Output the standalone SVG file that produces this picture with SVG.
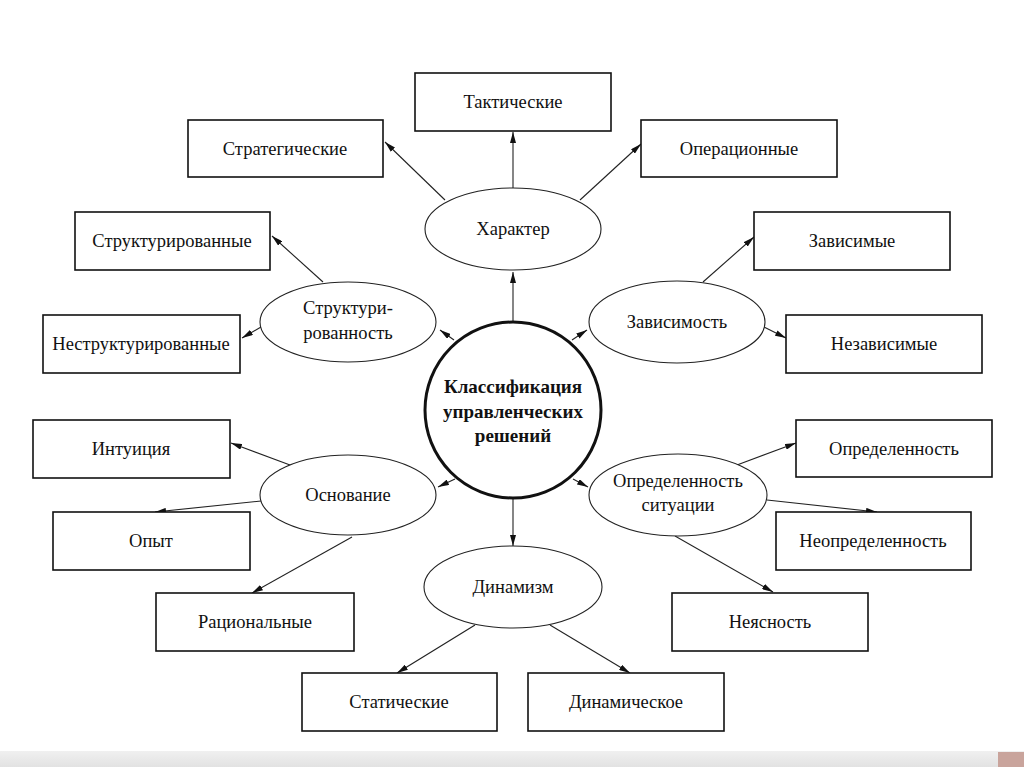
<svg xmlns="http://www.w3.org/2000/svg" width="1024" height="767" viewBox="0 0 1024 767">
<defs>
<marker id="ah" viewBox="0 0 11 6" refX="11" refY="3" markerWidth="11" markerHeight="6" markerUnits="userSpaceOnUse" orient="auto">
<path d="M0,0 L11,3 L0,6 Z" fill="#111"/>
</marker>
<linearGradient id="band" x1="0" y1="0" x2="0" y2="1">
<stop offset="0" stop-color="#f0f0f0"/>
<stop offset="1" stop-color="#e2e2e2"/>
</linearGradient>
</defs>
<style>
.box{fill:#fff;stroke:#111;stroke-width:1.6}
.ell{fill:#fff;stroke:#222;stroke-width:1.1}
.t{font-family:"Liberation Serif","Times New Roman",serif;font-size:18.5px;fill:#111;text-anchor:middle}
.c{font-family:"Liberation Serif","Times New Roman",serif;font-size:19px;font-weight:bold;fill:#111;text-anchor:middle}
.ln{stroke:#222;stroke-width:1.1;fill:none;marker-end:url(#ah)}
</style>
<rect x="0" y="0" width="1024" height="767" fill="#fff"/>
<rect x="0" y="751" width="1024" height="16" fill="url(#band)"/>
<rect x="998" y="752" width="26" height="15" fill="#c9a49c"/>

<g id="connectors">
<line class="ln" x1="513" y1="322" x2="513" y2="272"/>
<line class="ln" x1="454" y1="340" x2="440" y2="330"/>
<line class="ln" x1="572" y1="340" x2="587" y2="330"/>
<line class="ln" x1="455" y1="479" x2="438" y2="487"/>
<line class="ln" x1="573" y1="479" x2="588" y2="487"/>
<line class="ln" x1="513" y1="499" x2="513" y2="546"/>

<line class="ln" x1="513" y1="188" x2="513" y2="132"/>
<line class="ln" x1="445" y1="200" x2="385" y2="142"/>
<line class="ln" x1="580" y1="200" x2="641" y2="144"/>
<line class="ln" x1="323" y1="282" x2="272" y2="236"/>
<line class="ln" x1="261" y1="327" x2="242" y2="338"/>
<line class="ln" x1="703" y1="282" x2="754" y2="237"/>
<line class="ln" x1="764" y1="327" x2="786" y2="338"/>
<line class="ln" x1="290" y1="465" x2="231" y2="443"/>
<line class="ln" x1="261" y1="501" x2="155" y2="512"/>
<line class="ln" x1="352" y1="537" x2="252" y2="593"/>
<line class="ln" x1="737" y1="465" x2="796" y2="443"/>
<line class="ln" x1="767" y1="500" x2="877" y2="512"/>
<line class="ln" x1="675" y1="536" x2="773" y2="592"/>
<line class="ln" x1="475" y1="625" x2="397" y2="673"/>
<line class="ln" x1="550" y1="625" x2="630" y2="673"/>
</g>

<g id="center">
<circle cx="513" cy="410" r="88" fill="#fff" stroke="#111" stroke-width="3"/>
<text class="c" x="513" y="393">Классификация</text>
<text class="c" x="513" y="418">управленческих</text>
<text class="c" x="513" y="442">решений</text>
</g>

<g id="e-harakter"><ellipse class="ell" cx="513" cy="229" rx="88" ry="41"/><text class="t" x="513" y="235">Характер</text></g>
<g id="e-struct"><ellipse class="ell" cx="348" cy="322" rx="88" ry="40"/><text class="t" x="348" y="314">Структури-</text><text class="t" x="348" y="339">рованность</text></g>
<g id="e-zavis"><ellipse class="ell" cx="677" cy="322" rx="88" ry="41"/><text class="t" x="677" y="328">Зависимость</text></g>
<g id="e-osnov"><ellipse class="ell" cx="348" cy="495" rx="88" ry="40"/><text class="t" x="348" y="501">Основание</text></g>
<g id="e-opred"><ellipse class="ell" cx="678" cy="495" rx="89" ry="41"/><text class="t" x="678" y="487">Определенность</text><text class="t" x="678" y="511">ситуации</text></g>
<g id="e-dinam"><ellipse class="ell" cx="513" cy="587" rx="89" ry="41"/><text class="t" x="513" y="593">Динамизм</text></g>

<g id="b-takt"><rect class="box" x="415" y="73" width="196" height="58"/><text class="t" x="513" y="108">Тактические</text></g>
<g id="b-strat"><rect class="box" x="188" y="120" width="195" height="57"/><text class="t" x="285" y="155">Стратегические</text></g>
<g id="b-oper"><rect class="box" x="641" y="120" width="196" height="57"/><text class="t" x="739" y="155">Операционные</text></g>
<g id="b-structd"><rect class="box" x="75" y="212" width="195" height="58"/><text class="t" x="172" y="247">Структурированные</text></g>
<g id="b-nestruct"><rect class="box" x="43" y="315" width="197" height="58"/><text class="t" x="141" y="350">Неструктурированные</text></g>
<g id="b-zavis"><rect class="box" x="754" y="212" width="196" height="58"/><text class="t" x="852" y="247">Зависимые</text></g>
<g id="b-nezavis"><rect class="box" x="786" y="315" width="196" height="58"/><text class="t" x="884" y="350">Независимые</text></g>
<g id="b-intuit"><rect class="box" x="33" y="420" width="197" height="58"/><text class="t" x="131" y="455">Интуиция</text></g>
<g id="b-opyt"><rect class="box" x="53" y="512" width="197" height="58"/><text class="t" x="151" y="547">Опыт</text></g>
<g id="b-rac"><rect class="box" x="156" y="593" width="198" height="58"/><text class="t" x="255" y="628">Рациональные</text></g>
<g id="b-opr"><rect class="box" x="796" y="420" width="196" height="57"/><text class="t" x="894" y="455">Определенность</text></g>
<g id="b-neopr"><rect class="box" x="776" y="512" width="195" height="58"/><text class="t" x="873" y="547">Неопределенность</text></g>
<g id="b-neyas"><rect class="box" x="672" y="593" width="196" height="58"/><text class="t" x="770" y="628">Неясность</text></g>
<g id="b-stat"><rect class="box" x="302" y="673" width="195" height="58"/><text class="t" x="399" y="708">Статические</text></g>
<g id="b-dinam"><rect class="box" x="528" y="673" width="196" height="58"/><text class="t" x="626" y="708">Динамическое</text></g>
</svg>
